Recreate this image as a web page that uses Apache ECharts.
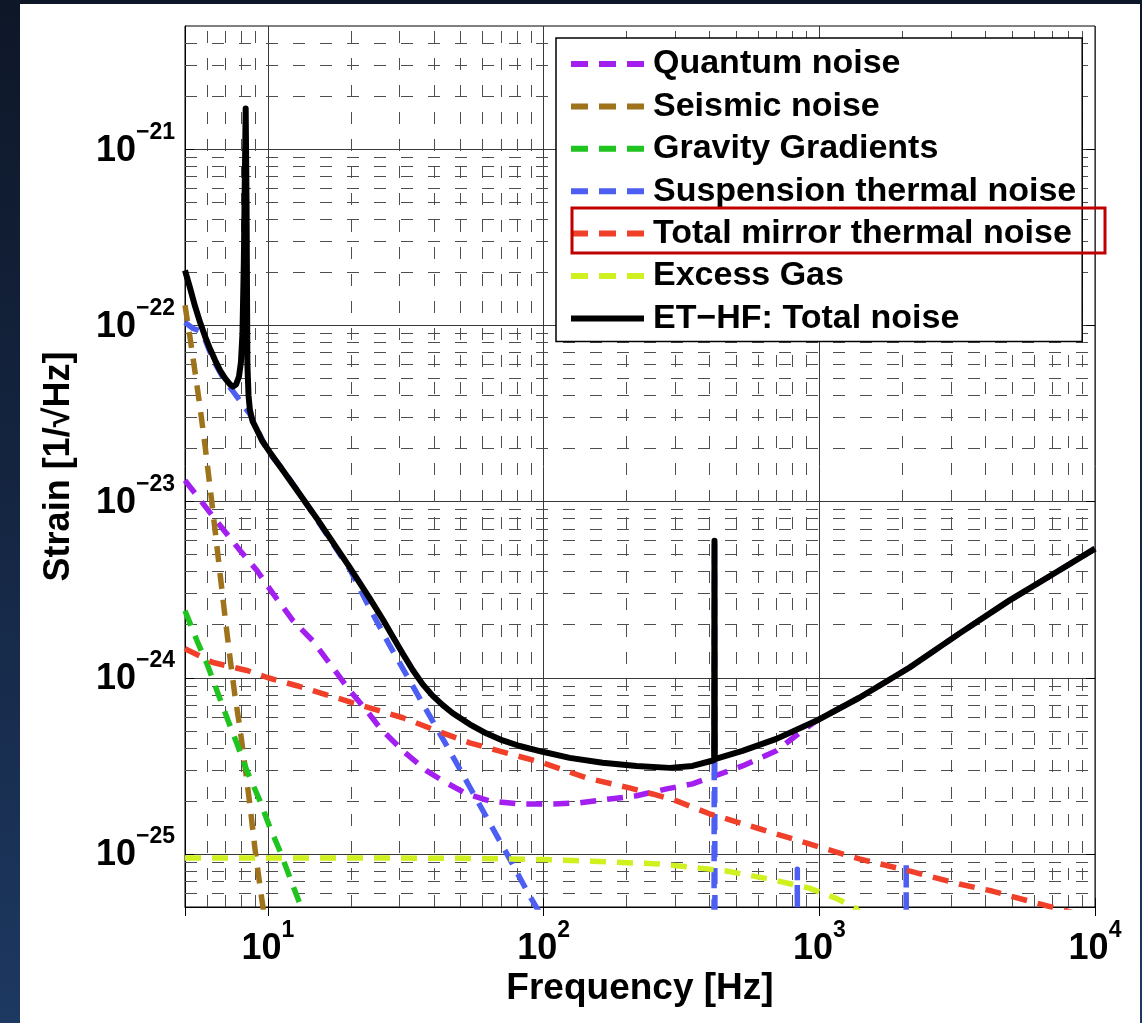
<!DOCTYPE html>
<html>
<head>
<meta charset="utf-8">
<script src="https://cdn.jsdelivr.net/npm/echarts@6/dist/echarts.min.js"></script>
<style>
html,body{margin:0;padding:0;width:1142px;height:1023px;overflow:hidden;
  background:linear-gradient(180deg,#0e1728 0%,#14243f 45%,#1d3861 100%);}
#panel{position:absolute;left:20px;top:4px;width:1120px;height:1019px;background:#fff;}
#chart{position:absolute;left:0;top:0;width:1142px;height:1023px;}
</style>
</head>
<body>
<div id="panel"></div>
<div id="chart"></div>
<script>
// ---------------- data (frequency [Hz], strain [1/sqrt(Hz)]) ----------------
const seriesNames = ['Quantum noise','Seismic noise','Gravity Gradients','Suspension thermal noise',
  'Total mirror thermal noise','Excess Gas','ET\u2212HF: Total noise'];

const quantumNoise = [[5.0,1.32e-23],[6.32,8.22e-24],[7.92,5.27e-24],[9.12,4.06e-24],[10.43,3.00e-24],
  [12.32,2.11e-24],[14.55,1.62e-24],[16.77,1.20e-24],[19.82,8.44e-25],[22.84,6.49e-25],[25.46,5.20e-25],
  [30.84,3.85e-25],[37.67,2.96e-25],[43.06,2.60e-25],[52.6,2.19e-25],[63.73,2.00e-25],[81.85,1.92e-25],
  [105.1,1.92e-25],[135,1.95e-25],[173.4,2.05e-25],[217.3,2.14e-25],[279.1,2.34e-25],[346.7,2.50e-25],
  [416.6,2.77e-25],[526,3.16e-25],[698.6,3.85e-25],[867.8,5.00e-25],[975,5.70e-25],[1396,7.70e-25],
  [2119,1.14e-24],[3216,1.78e-24],[4880,2.74e-24],[7407,4.06e-24],[10000,5.41e-24]];

const seismicNoise = [[5.0,1.30e-22],[5.22,8.44e-23],[5.44,5.41e-23],[5.67,3.42e-23],[5.91,2.08e-23],
  [6.17,1.19e-23],[6.43,6.84e-24],[6.70,3.90e-24],[6.99,2.2e-24],[7.28,1.30e-24],[7.59,7.9e-25],
  [7.92,5.13e-25],[8.25,3.16e-25],[8.61,1.87e-25],[8.97,1.07e-25],[9.35,6.58e-26],[9.75,4.16e-26]];

const gravityGradients = [[5.0,2.40e-24],[5.53,1.62e-24],[6.01,1.20e-24],[6.53,8.44e-25],[7.10,5.93e-25],
  [7.72,4.22e-25],[8.39,2.96e-25],[9.35,2.00e-25],[10.17,1.41e-25],[11.05,1.04e-25],[12.02,7.31e-26],
  [13.06,5.20e-26],[13.62,4.33e-26]];

const suspensionThermal = [[5.0,1.04e-22],[5.35,9.6e-23],[5.67,9.3e-23],[5.91,8.32e-23],[6.17,7.02e-23],
  [6.43,6.08e-23],[6.99,4.81e-23],[7.47,4.22e-23],[8.61,3.12e-23],
  [10,1.92e-23],[11.33,1.52e-23],[13.06,1.10e-23],[15.05,7.90e-24],[19.82,4.12e-24],[23.42,2.47e-24],
  [27.67,1.52e-24],[32.7,9.61e-25],[38.6,6.08e-25],[45.6,3.85e-25],[53.93,2.40e-25],[63.73,1.50e-25],
  [75.3,9.37e-26],[89.0,5.77e-26],[100.8,4.16e-26],[150,1.2e-26],[250,4.0e-27],[414,1.5e-27],
  [416.6,6.0e-24],[419,1.5e-27],[829,5e-28],[832,8.2e-26],[835,5e-28],[2058,2e-28],[2066,8.9e-26],
  [2074,2e-28],[10000,1e-29]];

const mirrorThermal = [[5.0,1.46e-24],[6.32,1.22e-24],[8.39,1.10e-24],[10,1.00e-24],[12.74,9.01e-25],
  [16.77,7.90e-25],[20.32,7.21e-25],[25.46,6.49e-25],[30.84,5.93e-25],[40.95,5.00e-25],[53.93,4.27e-25],
  [75.3,3.70e-25],[99.2,3.29e-25],[143.2,2.70e-25],[204.9,2.37e-25],[248.3,2.19e-25],[303.4,2.00e-25],
  [399.5,1.69e-25],[606.2,1.39e-25],[920,1.14e-25],[1396,9.37e-26],[2119,8.01e-26],[3216,6.75e-26],
  [4235,6.16e-26],[6113,5.27e-26],[10000,4.3e-26]];

const excessGas = [[5,9.5e-26],[20,9.5e-26],[50,9.45e-26],[100,9.3e-26],[150,9.1e-26],[263,8.77e-26],
  [347,8.4e-26],[460,8.0e-26],[659,7.2e-26],[920,6.4e-26],[1152,5.6e-26],[1362,4.9e-26],[1520,3.9e-26]];

const totalNoise = [[5.0,2.05e-22],[5.22,1.62e-22],[5.44,1.28e-22],[5.67,1.04e-22],[5.91,8.66e-23],
  [6.17,7.31e-23],[6.43,6.33e-23],[6.70,5.55e-23],[6.99,5.00e-23],[7.28,4.62e-23],[7.47,4.50e-23],
  [7.66,4.62e-23],[7.85,5.13e-23],[7.98,6.2e-23],[8.08,9.0e-23],[8.17,2.2e-22],[8.3,1.7e-21],
  [8.36,5.0e-22],[8.42,6.0e-23],[8.5,4.0e-23],[8.6,3.3e-23],[8.8,2.85e-23],[9.12,2.55e-23],[9.51,2.22e-23],
  [10.17,1.90e-23],[11.33,1.50e-23],[13.06,1.096e-23],[15.05,8.0e-24],[19.82,4.22e-24],[23.42,2.81e-24],
  [26.1,2.14e-24],[28.38,1.71e-24],[30.84,1.37e-24],[33.5,1.106e-24],[36.43,9.17e-25],[39.6,7.89e-25],
  [43.06,6.99e-25],[46.81,6.29e-25],[53.93,5.44e-25],[62.16,4.82e-25],[71.0,4.41e-25],[81.85,4.10e-25],
  [99.2,3.80e-25],[124.3,3.51e-25],[163.6,3.29e-25],[217.3,3.16e-25],[286.2,3.08e-25],[346.7,3.16e-25],
  [408,3.38e-25],[415.5,3.42e-25],[416.6,6.0e-24],[417.7,3.45e-25],[526,3.85e-25],[698.6,4.50e-25],
  [975,5.70e-25],[1396,7.70e-25],[2119,1.14e-24],[3216,1.78e-24],[4880,2.74e-24],[7407,4.06e-24],
  [10000,5.41e-24]];

// axis ranges and minor grid positions
const xRange = [5, 10000];
const yRange = [5e-26, 5e-21];
const minorX = [6,7,8,9,20,30,40,50,60,70,80,90,200,300,400,500,600,700,800,900,
  2000,3000,4000,5000,6000,7000,8000,9000];
const minorY = [6e-26,7e-26,8e-26,9e-26,2e-25,3e-25,4e-25,5e-25,6e-25,7e-25,8e-25,9e-25,
  2e-24,3e-24,4e-24,5e-24,6e-24,7e-24,8e-24,9e-24,2e-23,3e-23,4e-23,5e-23,6e-23,7e-23,8e-23,9e-23,
  2e-22,3e-22,4e-22,5e-22,6e-22,7e-22,8e-22,9e-22,2e-21,3e-21,4e-21];

// ---------------- styling ----------------
const FONT = '"Liberation Sans", Arial, Helvetica, sans-serif';
const colors = ['#a21ff0','#9e731c','#1fc41f','#4d5ef2','#f0402a','#d0f01f','#000000'];
const dataSets = [quantumNoise, seismicNoise, gravityGradients, suspensionThermal, mirrorThermal, excessGas, totalNoise];
const DASH_ICON = 'path://M0,0H17V6H0Z M28,0H45V6H28Z M56,0H73V6H56Z';
const SOLID_ICON = 'path://M0,0H73V6H0Z';

const isPow10 = v => Math.abs(Math.log10(v) - Math.round(Math.log10(v))) < 1e-6;
const expText = v => { const e = Math.round(Math.log10(v)); return e < 0 ? '\u2212' + (-e) : String(e); };
const labelFmt = v => isPow10(v) ? '{b|10}{s|' + expText(v) + '}' : '';
const rich = {
  b: {fontSize: 36, fontWeight: 'bold', fontFamily: FONT, color: '#000', lineHeight: 36, verticalAlign: 'bottom'},
  s: {fontSize: 23, fontWeight: 'bold', fontFamily: FONT, color: '#000', lineHeight: 48, verticalAlign: 'top'}
};

const curveSeries = dataSets.map((d, i) => ({
  type: 'line', name: seriesNames[i], data: d, z: 3,
  showSymbol: false, symbol: 'circle', symbolSize: 0, silent: true,
  clip: true, animation: false,
  lineStyle: {color: colors[i], width: i === 6 ? 6 : 5.5, type: i === 6 ? 'solid' : [16, 11], cap: 'butt', join: 'round'},
  itemStyle: {color: colors[i]},
  emphasis: {disabled: true}
}));

const minorLines = minorX.map(v => [{coord: [v, yRange[0]]}, {coord: [v, yRange[1]]}])
  .concat(minorY.map(v => [{coord: [xRange[0], v]}, {coord: [xRange[1], v]}]));

const gridSeries = {
  type: 'line', name: '_minorgrid', data: [], z: 1, silent: true, animation: false,
  markLine: {
    silent: true, animation: false, symbol: ['none', 'none'], z: 1, precision: 40,
    label: {show: false},
    lineStyle: {color: '#4e4e4e', width: 1, type: [12, 15]},
    emphasis: {disabled: true},
    data: minorLines
  }
};

const boxAxis = (pos) => ({
  type: 'log', logBase: 10, position: pos,
  min: (pos === 'top') ? xRange[0] : yRange[0], max: (pos === 'top') ? xRange[1] : yRange[1],
  axisLine: {show: false}, axisLabel: {show: false}, splitLine: {show: false},
  axisTick: {show: true, inside: true, length: 9, lineStyle: {color: '#000', width: 1}}
});

const chart = echarts.init(document.getElementById('chart'), null, {renderer: 'canvas'});
chart.setOption({
  animation: false,
  backgroundColor: 'transparent',
  grid: {left: 185, top: 26, width: 910, height: 881, show: true, borderColor: '#000', borderWidth: 1,
    backgroundColor: 'transparent', containLabel: false, outerBoundsMode: 'none'},
  xAxis: [{
    type: 'log', logBase: 10, min: xRange[0], max: xRange[1], position: 'bottom',
    axisLine: {show: true, lineStyle: {color: '#000', width: 1}},
    axisTick: {show: true, inside: true, length: 9, lineStyle: {color: '#000', width: 1}},
    splitLine: {show: true, lineStyle: {color: '#3a3a3a', width: 1}},
    axisLabel: {margin: 12, formatter: labelFmt, rich: rich, showMinLabel: true, showMaxLabel: true},
    name: 'Frequency [Hz]', nameLocation: 'middle', nameGap: 63, nameMoveOverlap: false,
    nameTextStyle: {fontSize: 37, fontWeight: 'bold', fontFamily: FONT, color: '#000'}
  }, boxAxis('top')],
  yAxis: [{
    type: 'log', logBase: 10, min: yRange[0], max: yRange[1], position: 'left',
    axisLine: {show: true, lineStyle: {color: '#000', width: 1}},
    axisTick: {show: true, inside: true, length: 9, lineStyle: {color: '#000', width: 1}},
    splitLine: {show: true, lineStyle: {color: '#3a3a3a', width: 1}},
    axisLabel: {margin: 10, padding: [0, 0, 9, 0], formatter: labelFmt, rich: rich, showMinLabel: true, showMaxLabel: true},
    name: 'Strain [1/\u221AHz]', nameLocation: 'middle', nameGap: 108, nameRotate: 90, nameMoveOverlap: false,
    nameTextStyle: {fontSize: 36, fontWeight: 'bold', fontFamily: FONT, color: '#000'}
  }, boxAxis('right')],
  legend: {
    show: true, orient: 'vertical', left: 556, top: 38,
    padding: [9, 6, 6, 15], itemGap: 8.4, itemWidth: 73, itemHeight: 6,
    backgroundColor: '#fff', borderColor: '#000', borderWidth: 1.5, borderRadius: 0,
    selectedMode: false,
    textStyle: {fontSize: 34, fontWeight: 'bold', fontFamily: FONT, color: '#000', lineHeight: 34, padding: [0, 0, 0, 4]},
    data: seriesNames.map((n, i) => ({name: n, icon: i === 6 ? SOLID_ICON : DASH_ICON}))
  },
  graphic: [{
    type: 'rect', z: 100, silent: true,
    shape: {x: 572, y: 208, width: 533, height: 45},
    style: {fill: 'none', stroke: '#c00000', lineWidth: 3}
  }],
  series: [gridSeries].concat(curveSeries)
});
</script>
</body>
</html>
